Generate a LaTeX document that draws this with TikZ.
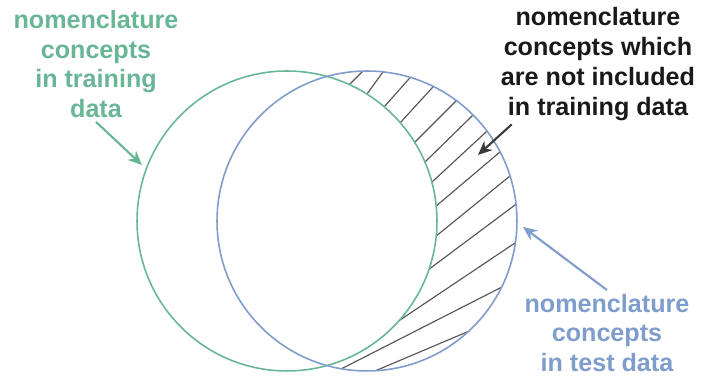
\documentclass[tikz,border=0pt]{standalone}
\usepackage{fontspec}
\setmainfont{Liberation Sans}
\usetikzlibrary{arrows.meta}
\definecolor{traingreen}{RGB}{104,182,150}
\definecolor{testblue}{RGB}{126,156,204}
\definecolor{hatchgray}{RGB}{85,85,85}
\definecolor{inkblack}{RGB}{25,25,25}

\begin{document}
\begin{tikzpicture}[x=0.02cm,y=-0.02cm,
    caption/.style={align=center,inner sep=2pt,
      font=\fontsize{14.3}{17}\selectfont\bfseries},
    ring/.style={line width=0.9pt},
    hatch/.style={draw=hatchgray,line width=0.65pt,
      shorten <=-12pt,shorten >=-12pt},
    pointer/.style={line width=1.2pt,-{Stealth[length=8pt,width=7pt]}}]
  \useasboundingbox (0,0) rectangle (711,377);
  \def\r{3cm}
  \coordinate (train) at (287,221);
  \coordinate (test) at (367,221);
  % hatching: test circle minus training circle
  \begin{scope}
    \clip (test) circle (\r);
    \foreach \ax/\ay/\bx/\by in {349/85/362/72, 367/94/383/72,
        384/107/408/80, 400/123/432/88, 415/142/455/102,
        426/161/470/118, 432/182/485/133, 435/207/500/152,
        435/237/510/176, 428/270/515/205, 403/318/515/243,
        343/368/500/288, 382/368/467/332} {
      \draw[hatch] (\ax,\ay) -- (\bx,\by);
    }
    \fill[white] (train) circle (\r);
  \end{scope}
  \draw[ring,traingreen] (train) circle (\r);
  \draw[ring,testblue] (test) circle (\r);

  \node[caption,text=traingreen] (traintext) at (96,64)
    {nomenclature\\concepts\\in training\\data};
  \node[caption,text=inkblack] (unseentext) at (598,64)
    {nomenclature\\concepts which\\are not included\\in training data};
  \node[caption,text=testblue] (testtext) at (607,333)
    {nomenclature\\concepts\\in test data};

  \coordinate (traintip) at (142,165);
  \coordinate (unseentip) at (478,155);
  \coordinate (testtip) at (523,227);
  \draw[pointer,traingreen] (traintext.south) -- (traintip);
  \draw[pointer,inkblack!85] (unseentext.215) -- (unseentip);
  \draw[pointer,testblue] (testtext.north) -- (testtip);
\end{tikzpicture}
\end{document}
